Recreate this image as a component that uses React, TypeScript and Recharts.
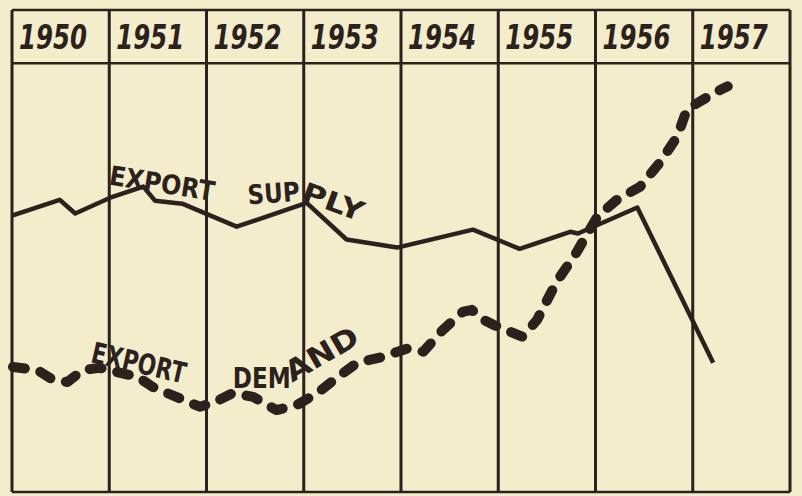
import React from 'react';
import { LineChart, Line, XAxis, YAxis, ReferenceLine, ReferenceArea, ReferenceDot } from 'recharts';

// ---- data ----
const yearLabels = ['1950', '1951', '1952', '1953', '1954', '1955', '1956', '1957'];
const yearStarts = [1950, 1951, 1952, 1953, 1954, 1955, 1956, 1957];
const gridYears = [1950, 1951, 1952, 1953, 1954, 1955, 1956, 1957, 1958];

const supplyYears = [1950.0, 1950.49, 1950.65, 1951.01, 1951.35, 1951.47, 1951.75, 1952.31, 1953.03, 1953.44, 1953.96, 1954.74, 1955.22, 1955.74, 1955.82, 1956.43, 1957.21];
const supplyValues = [64.8, 68.5, 65.3, 69.0, 71.6, 68.3, 67.6, 62.2, 67.8, 59.2, 57.3, 61.5, 57.0, 61.0, 60.6, 66.7, 30.3];

const demandYears = [1950.01, 1950.26, 1950.42, 1950.57, 1950.73, 1950.9, 1951.29, 1951.45, 1951.76, 1951.93, 1952.07, 1952.27, 1952.48, 1952.72, 1952.93, 1953.14, 1953.34, 1953.55, 1953.78, 1954.06, 1954.23, 1954.43, 1954.64, 1954.73, 1954.81, 1954.95, 1955.25, 1955.4, 1955.6, 1955.79, 1956.02, 1956.22, 1956.46, 1956.66, 1956.84, 1956.94, 1957.07, 1957.25, 1957.36];
const demandValues = [29.3, 28.6, 26.3, 25.8, 28.6, 29.1, 27.0, 24.6, 21.6, 20.0, 20.9, 23.2, 22.3, 19.2, 20.4, 23.2, 26.8, 30.3, 31.5, 33.6, 32.9, 38.0, 42.3, 42.7, 40.8, 39.2, 36.4, 40.4, 49.3, 55.6, 64.6, 68.5, 71.6, 77.2, 83.3, 89.7, 91.5, 93.9, 95.1];

const supplyData = supplyYears.map((year, i) => ({ year, value: supplyValues[i] }));
const demandData = demandYears.map((year, i) => ({ year, value: demandValues[i] }));

// curved hand-lettered series labels (anchor in data coords)
const labelTexts = ['EXPORT', 'SUP', 'PLY', 'EXPORT', 'DEM', 'AND'];
const labelYears = [1950.99, 1952.43, 1952.96, 1950.8, 1952.27, 1952.88];
const labelValues = [72.1, 67.4, 68.5, 30.5, 24.4, 25.6];

// ---- style ----
const INK = '#2b211d';
const BG = '#f4edcc';
const HEADER_BOTTOM = 100.5;
const TOP = 113;
const labelAngles = [9, -4, 20, 13, 0, -30];
const labelLengths = [106, 52, 64, 96, 58, 80];
const labelSizes = [27, 27, 27, 29, 29, 29];

const handFont = '"DejaVu Sans", "Liberation Sans", sans-serif';

const YearLabel = (props: any) => {
  const vb = props.viewBox || {};
  return (
    <text
      x={vb.x + 7}
      y={vb.y + vb.height / 2 + 12}
      fill={INK}
      fontFamily={handFont}
      fontStyle="italic"
      fontWeight="bold"
      fontSize={33}
      textLength={68}
      lengthAdjust="spacingAndGlyphs"
    >
      {props.text}
    </text>
  );
};

const makeLetterShape = (i: number) => (props: any) => (
  <text
    x={props.cx}
    y={props.cy}
    transform={`rotate(${labelAngles[i]} ${props.cx} ${props.cy})`}
    fill={INK}
    fontFamily={handFont}
    fontWeight="bold"
    fontSize={labelSizes[i]}
    textLength={labelLengths[i]}
    lengthAdjust="spacingAndGlyphs"
  >
    {labelTexts[i]}
  </text>
);

export default function App() {
  return (
    <div style={{ position: 'absolute', left: 0, top: 0, width: 802, height: 496, background: BG }}>
      <LineChart width={802} height={496} margin={{ top: 10, right: 12, bottom: 4, left: 12 }}>
        <XAxis type="number" dataKey="year" domain={[1950, 1958]} hide allowDuplicatedCategory={false} />
        <YAxis type="number" domain={[0, TOP]} hide />
        {yearStarts.map((y, i) => (
          <ReferenceArea
            key={'h' + y}
            x1={y}
            x2={y + 1}
            y1={HEADER_BOTTOM}
            y2={TOP}
            fill="none"
            stroke="none"
            label={(p: any) => <YearLabel {...p} text={yearLabels[i]} />}
          />
        ))}
        {gridYears.map((y) => (
          <ReferenceLine key={'v' + y} x={y} stroke={INK} strokeWidth={3} />
        ))}
        <ReferenceLine y={TOP} stroke={INK} strokeWidth={2.5} />
        <ReferenceLine y={HEADER_BOTTOM} stroke={INK} strokeWidth={2.5} />
        <ReferenceLine y={0} stroke={INK} strokeWidth={2.5} />
        <Line
          data={supplyData}
          dataKey="value"
          type="linear"
          stroke={INK}
          strokeWidth={4.5}
          strokeLinejoin="round"
          dot={false}
          activeDot={false}
          isAnimationActive={false}
        />
        <Line
          data={demandData}
          dataKey="value"
          type="linear"
          stroke={INK}
          strokeWidth={10}
          strokeDasharray="12 16"
          strokeLinecap="round"
          strokeLinejoin="round"
          dot={false}
          activeDot={false}
          isAnimationActive={false}
        />
        {labelTexts.map((t, i) => (
          <ReferenceDot
            key={'l' + i}
            x={labelYears[i]}
            y={labelValues[i]}
            r={0}
            shape={makeLetterShape(i)}
          />
        ))}
      </LineChart>
    </div>
  );
}
